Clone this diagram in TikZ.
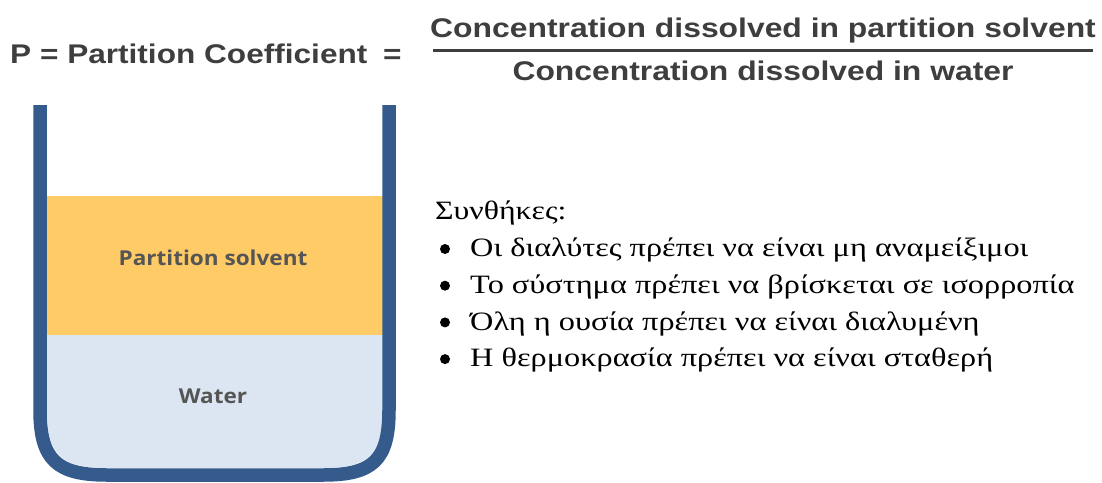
\documentclass[tikz,border=0pt]{standalone}
\usepackage{fontspec}
\usepackage{graphicx}
\setmainfont{Liberation Serif}
\newfontfamily\hdrfont{Liberation Sans}
\newfontfamily\labfont{Open Sans}
\definecolor{wallblue}{HTML}{345B8B}
\definecolor{solvorange}{HTML}{FECB66}
\definecolor{waterblue}{HTML}{DCE6F2}
\definecolor{hdrgray}{HTML}{3E3E3E}
\definecolor{labgray}{HTML}{555555}
\tikzset{
  hdr/.style={inner sep=0pt, text=hdrgray, font=\hdrfont\bfseries\fontsize{27}{30}\selectfont},
  lab/.style={inner sep=0pt, text=labgray, font=\labfont\bfseries\fontsize{20.5}{24}\selectfont},
  greek/.style={inner sep=0pt, anchor=base west, text=black, font=\fontsize{26.5}{30}\selectfont},
  bul/.style={circle, fill=black, inner sep=0pt, minimum size=10pt},
  wall/.style={draw=wallblue, line width=13.5pt},
}
\begin{document}
\begin{tikzpicture}[x=1pt,y=-1pt]
\useasboundingbox (0,0) rectangle (1102,482);
% liquids
\fill[solvorange] (47,196) rectangle (383,335);
\fill[waterblue] (47,335) -- (47,410) .. controls (47,455) and (62,468) .. (107,468) -- (323,468) .. controls (368,468) and (383,455) .. (383,410) -- (383,335) -- cycle;
% beaker
\draw[wall] (40,105) -- (40,410) .. controls (40,460) and (57,475) .. (107,475) -- (323,475) .. controls (373,475) and (389,460) .. (389,410) -- (389,105);
\node[lab] (solv) at (213,258) {\scalebox{1.1}[1]{Partition solvent}};
\node[lab] (wat) at (213,396) {\scalebox{1.1}[1]{Water}};
% header
\node[hdr, anchor=base west] (peq) at (10,63.3) {\scalebox{1.17}[1]{P = Partition Coefficient\hspace{0.5em}=}};
\node[hdr, anchor=base] (num) at (763,37) {\scalebox{1.18}[1]{Concentration dissolved in partition solvent}};
\node[hdr, anchor=base] (den) at (763,80) {\scalebox{1.18}[1]{Concentration dissolved in water}};
\coordinate (barL) at (433,50.5);
\coordinate (barR) at (1093,50.5);
\draw[hdrgray, line width=3pt] (barL) -- (barR);
% conditions
\node[greek] (cond) at (435,219.3) {\scalebox{1.2}[1]{Συνθήκες:}};
\node[bul] (b1) at (445,249) {};
\node[bul] (b2) at (445,285.7) {};
\node[bul] (b3) at (445,322.4) {};
\node[bul] (b4) at (445,359.1) {};
\node[greek] (t1) at (470,256.7) {\scalebox{1.22}[1]{Οι διαλύτες πρέπει να είναι μη αναμείξιμοι}};
\node[greek] (t2) at (470,293.4) {\scalebox{1.22}[1]{Το σύστημα πρέπει να βρίσκεται σε ισορροπία}};
\node[greek] (t3) at (470,330.1) {\scalebox{1.22}[1]{Όλη η ουσία πρέπει να είναι διαλυμένη}};
\node[greek] (t4) at (470,366.8) {\scalebox{1.22}[1]{Η θερμοκρασία πρέπει να είναι σταθερή}};
\end{tikzpicture}
\end{document}
